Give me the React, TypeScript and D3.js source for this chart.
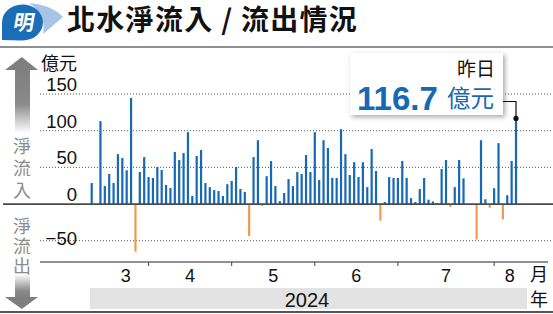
import React from "react";
import * as d3 from "d3";

// Daily northbound net flow (億元), one entry per trading-day slot; null = no trading
const flows: (number | null)[] = [
  28.6, null, 113, 24.5, 41, 28.6, 68, 62.7, 46, 144.5,
  -65, 43.6, 64, 36.8, 35.5, 50.5, 46.4, 26, 21.8, 71,
  60, 69.5, 98, 11, 65.5, 73.6, 28.6, 23, 19, 17.7,
  11, 27, 31.4, 50.5, 20.5, 16.4, -43.6, 64, 87, -2.7,
  38, 58.6, 24.5, 4, 15, 34, 24.5, 43.6, 41, 66.8,
  43.6, 98, 32.7, 87, 76.4, 35.5, 35.5, 102, 68, 39.5,
  57, 36.8, 57, 23, 75, 45, -22.7, 2.7, 36.8, 35.5,
  35.5, 58.6, 35.5, 8, 2.7, 20.5, 35.5, 5.9, 3.5, 1,
  47.7, 60, -4, 23, 60, 35, null, -1.5, -48.5, 87,
  6.5, -5, 21.5, 83, -21, 12, 58.7, 116.7,
];
const days = flows.map((_, i) => i);

const monthLabels = ["3", "4", "5", "6", "7", "8"];
// slot boundaries between months (first/last are the visible edges)
const monthBounds = [2.6, 13, 32, 51, 70, 92, 99.2];
const yTicks = [150, 100, 50, 0, -50];
const yearLabel = "2024";
const latestValue = 116.7;

const CJK = "'Noto Sans CJK TC', 'Noto Sans CJK SC', sans-serif";
const NUM = "'Liberation Sans', Arial, sans-serif";
const BLUE = "#1769b5";
const ORANGE = "#f2994a";

export default function App() {
  const x = d3.scaleLinear().domain([0, days.length - 1]).range([91.7, 516]);
  const y = d3.scaleLinear().domain([-50, 150]).range([240.7, 94]);
  const y0 = y(0);
  const barW = 2.2;
  const lastIdx = days.length - 1;

  return (
    <svg
      width={553}
      height={314}
      style={{ position: "absolute", left: 0, top: 0, background: "#fff" }}
    >
      <defs>
        <linearGradient id="upFade" x1="0" y1="0" x2="0" y2="1">
          <stop offset="0" stopColor="#7f7f7f" />
          <stop offset="0.55" stopColor="#8a8a8a" />
          <stop offset="1" stopColor="#ffffff" />
        </linearGradient>
        <linearGradient id="downFade" x1="0" y1="1" x2="0" y2="0">
          <stop offset="0" stopColor="#7f7f7f" />
          <stop offset="0.3" stopColor="#8a8a8a" />
          <stop offset="1" stopColor="#ffffff" />
        </linearGradient>
        <filter id="shadow" x="-20%" y="-30%" width="140%" height="160%">
          <feDropShadow dx="2" dy="2" stdDeviation="2.5" floodColor="#000" floodOpacity="0.35" />
        </filter>
      </defs>

      {/* logo */}
      <path d="M29,3 Q52,5 63,17 L43,34 Q47,15 29,3 Z" fill="#a9c3e6" />
      <path d="M2,40 L2,23 A20.5,18 0 1 1 22.5,40.5 Z" fill="#1a6db6" />
      <text
        x={23}
        y={30}
        fontSize={21}
        fontWeight="bold"
        fill="#fff"
        textAnchor="middle"
        fontFamily={CJK}
        transform="skewX(-10) translate(5,0)"
      >
        明
      </text>

      {/* title */}
      <text x={67} y={30} fontSize={28} fontWeight="bold" fill="#111" fontFamily={CJK} letterSpacing={1.3}>
        北水淨流入 / 流出情況
      </text>
      <line x1={0} x2={553} y1={47} y2={47} stroke="#6a6a6a" strokeWidth={1.5} />

      {/* left arrows */}
      <rect x={15} y={69} width={15} height={64} fill="url(#upFade)" />
      <path d="M21.8,57 L38,70 L5,70 Z" fill="#7f7f7f" />
      <rect x={15} y={274} width={15} height={24} fill="url(#downFade)" />
      <path d="M21.8,309 L38,297 L5,297 Z" fill="#7f7f7f" />
      <text
        x={22}
        y={137}
        fontSize={18}
        fill="#8c8c8c"
        fontFamily={CJK}
        style={{ writingMode: "vertical-rl" } as React.CSSProperties}
        letterSpacing={4}
      >
        淨流入
      </text>
      <text
        x={22}
        y={217}
        fontSize={18}
        fill="#8c8c8c"
        fontFamily={CJK}
        style={{ writingMode: "vertical-rl" } as React.CSSProperties}
        letterSpacing={2}
      >
        淨流出
      </text>

      {/* unit */}
      <text x={41} y={70} fontSize={18} fill="#111" fontFamily={CJK}>
        億元
      </text>

      {/* gridlines */}
      {yTicks.filter((t) => t !== 0).map((t) => (
        <line key={"g" + t} x1={40} x2={553} y1={y(t)} y2={y(t)} stroke="#555" strokeWidth={1} strokeDasharray="1,2" />
      ))}
      {yTicks.map((t) => (
        <text
          key={"t" + t}
          x={77}
          y={t < 0 ? y(t) + 4 : y(t) - 3}
          fontSize={18.5}
          textAnchor="end"
          fill="#111"
          fontFamily={NUM}
        >
          {t < 0 ? "\u2212" + Math.abs(t) : t}
        </text>
      ))}

      {/* bars */}
      {days.map((d) => {
        const v = flows[d];
        if (v === null) return null;
        const top = v >= 0 ? y(v) : y0;
        const h = Math.abs(y(v) - y0);
        return (
          <rect key={"b" + d} x={x(d) - barW / 2} y={top} width={barW} height={h} fill={v >= 0 ? BLUE : ORANGE} />
        );
      })}

      {/* zero line */}
      <line x1={3} x2={553} y1={y0} y2={y0} stroke="#4a4a4a" strokeWidth={1.8} />

      {/* bottom axis */}
      <line x1={40} x2={548} y1={262} y2={262} stroke="#222" strokeWidth={1} />
      {monthBounds.slice(1, -1).map((b, i) => (
        <line key={"mt" + i} x1={x(b)} x2={x(b)} y1={262} y2={266} stroke="#444" strokeWidth={1} />
      ))}
      {monthLabels.map((m, i) => (
        <text
          key={"m" + m}
          x={(x(monthBounds[i]) + x(monthBounds[i + 1])) / 2}
          y={282}
          fontSize={18}
          textAnchor="middle"
          fill="#111"
          fontFamily={NUM}
        >
          {m}
        </text>
      ))}
      <text x={530} y={281} fontSize={18} fill="#111" fontFamily={CJK}>
        月
      </text>
      <rect x={90} y={288} width={437} height={21} fill="#e3e3e3" />
      <text x={307} y={306.5} fontSize={20} textAnchor="middle" fill="#111" fontFamily={NUM}>
        {yearLabel}
      </text>
      <text x={530} y={306} fontSize={18} fill="#111" fontFamily={CJK}>
        年
      </text>
      <line x1={0} x2={553} y1={312} y2={312} stroke="#555" strokeWidth={2} />

      {/* annotation */}
      <rect x={350} y={53} width={153} height={62} fill="#fff" filter="url(#shadow)" />
      <text x={495} y={76} fontSize={19} textAnchor="end" fill="#111" fontFamily={CJK}>
        昨日
      </text>
      <text x={357} y={110} fontSize={33} fontWeight="bold" fill={BLUE} fontFamily={NUM}>
        {latestValue}
      </text>
      <text x={447} y={107} fontSize={23.5} fill={BLUE} fontFamily={CJK}>
        億元
      </text>
      <path
        d={`M503,101.5 H${x(lastIdx)} V${y(latestValue)}`}
        fill="none"
        stroke="#111"
        strokeWidth={1.2}
      />
      <circle cx={x(lastIdx)} cy={y(latestValue)} r={2.6} fill="#111" />
    </svg>
  );
}
